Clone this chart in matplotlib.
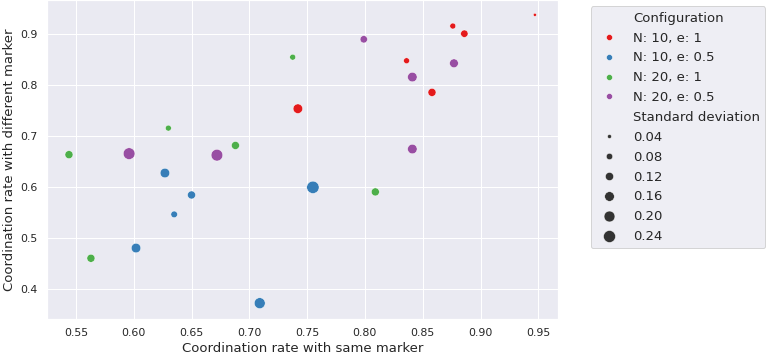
import numpy as np
import pandas as pd
import matplotlib
matplotlib.use("Agg")
import matplotlib.pyplot as plt
import seaborn as sns

configs = ["N: 10, e: 1", "N: 10, e: 0.5", "N: 20, e: 1", "N: 20, e: 0.5"]

# coordination rates, one list per configuration
same_n10_e1 = [0.742, 0.947, 0.876, 0.886, 0.836, 0.858]
diff_n10_e1 = [0.753, 0.937, 0.915, 0.900, 0.847, 0.785]
std_n10_e1 = [0.157, 0.031, 0.070, 0.100, 0.070, 0.116]

same_n10_e05 = [0.627, 0.650, 0.635, 0.602, 0.709, 0.755]
diff_n10_e05 = [0.627, 0.584, 0.546, 0.480, 0.372, 0.599]
std_n10_e05 = [0.157, 0.116, 0.084, 0.157, 0.201, 0.252]

same_n20_e1 = [0.7375, 0.630, 0.688, 0.544, 0.563, 0.809]
diff_n20_e1 = [0.854, 0.715, 0.681, 0.663, 0.460, 0.590]
std_n20_e1 = [0.070, 0.070, 0.116, 0.116, 0.116, 0.116]

same_n20_e05 = [0.596, 0.672, 0.799, 0.877, 0.841, 0.841]
diff_n20_e05 = [0.665, 0.662, 0.889, 0.842, 0.815, 0.674]
std_n20_e05 = [0.228, 0.228, 0.100, 0.135, 0.157, 0.157]

same = [same_n10_e1, same_n10_e05, same_n20_e1, same_n20_e05]
diff = [diff_n10_e1, diff_n10_e05, diff_n20_e1, diff_n20_e05]
std = [std_n10_e1, std_n10_e05, std_n20_e1, std_n20_e05]

rows = []
for c, xs, ys, ss in zip(configs, same, diff, std):
    for x, y, s in zip(xs, ys, ss):
        rows.append({"Coordination rate with same marker": x,
                     "Coordination rate with different marker": y,
                     "Configuration": c,
                     "Standard deviation": s})
df = pd.DataFrame(rows)

sns.set_theme(style="darkgrid")
plt.rcParams["axes.labelsize"] = 13.3
plt.rcParams["xtick.labelsize"] = 11
plt.rcParams["ytick.labelsize"] = 11
plt.rcParams["legend.fontsize"] = 13.2

dpi = 72
fig = plt.figure(figsize=(767 / dpi, 357 / dpi), dpi=dpi)
ax = fig.add_axes([47 / 767, 1 - 319 / 357, (558 - 47) / 767, 319 / 357])

sns.scatterplot(data=df, x="Coordination rate with same marker",
                y="Coordination rate with different marker",
                hue="Configuration", size="Standard deviation",
                palette="Set1", sizes=(10, 152), ax=ax)

ax.set_xlim(0.525, 0.967)
ax.set_ylim(0.341, 0.966)
ax.legend(bbox_to_anchor=(1.064, 0.98), loc="upper left", borderaxespad=0.,
          labelspacing=0.52)

fig.savefig("out.png", dpi=dpi)
